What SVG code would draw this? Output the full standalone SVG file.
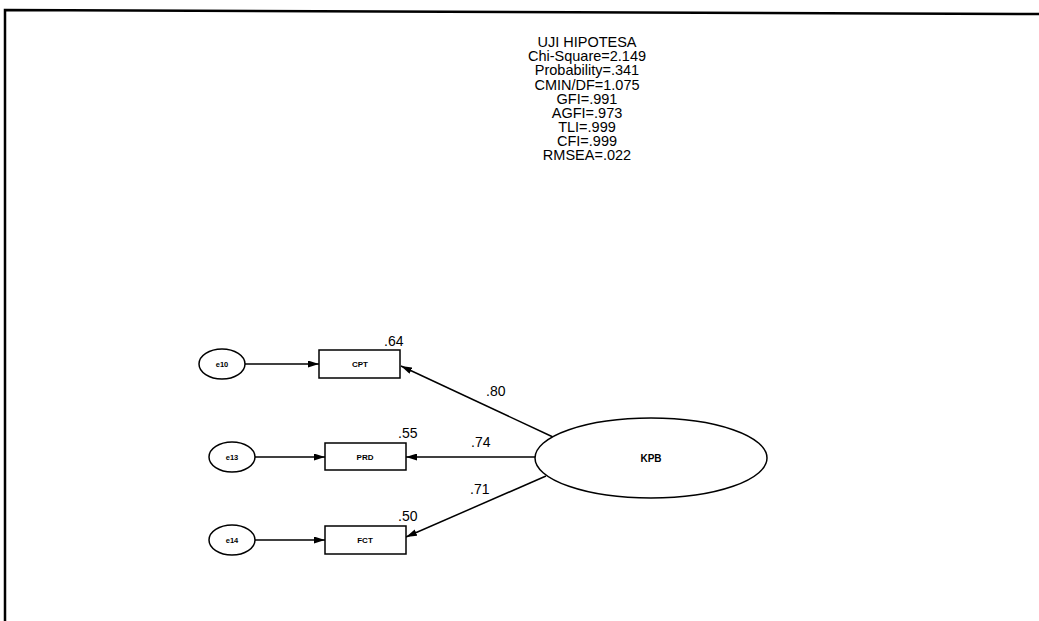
<svg xmlns="http://www.w3.org/2000/svg" width="1039" height="621" viewBox="0 0 1039 621">
<style>
.t{font-family:"Liberation Sans",Arial,sans-serif;fill:#000}
.title{font-size:14.5px;text-anchor:middle}
.lbl{font-size:14px}
.small{font-size:7.5px;font-weight:bold;text-anchor:middle}
.box{font-size:8px;font-weight:bold;text-anchor:middle}
.shape{fill:#fff;stroke:#000;stroke-width:1.5}
.conn{stroke:#000;stroke-width:1.5;fill:none}
</style>
<defs>
<marker id="ah" viewBox="0 0 11 7" refX="11" refY="3.5" markerWidth="11" markerHeight="7" markerUnits="userSpaceOnUse" orient="auto">
<path d="M0,0 L11,3.5 L0,7 Z" fill="#000"/>
</marker>
</defs>
<rect width="1039" height="621" fill="#fff"/>
<g id="frame">
<path d="M5,621 L5,10 L1039,14" fill="none" stroke="#000" stroke-width="2.5"/>
</g>
<g id="fit-stats" class="t title">
<text x="587" y="47">UJI HIPOTESA</text>
<text x="587" y="61">Chi-Square=2.149</text>
<text x="587" y="75">Probability=.341</text>
<text x="587" y="89.5">CMIN/DF=1.075</text>
<text x="587" y="104">GFI=.991</text>
<text x="587" y="118">AGFI=.973</text>
<text x="587" y="132">TLI=.999</text>
<text x="587" y="146">CFI=.999</text>
<text x="587" y="160">RMSEA=.022</text>
</g>
<g id="connectors">
<line class="conn" x1="245" y1="364" x2="319" y2="364" marker-end="url(#ah)"/>
<line class="conn" x1="255" y1="457" x2="325" y2="457" marker-end="url(#ah)"/>
<line class="conn" x1="255" y1="540" x2="325" y2="540" marker-end="url(#ah)"/>
<line class="conn" x1="553" y1="437" x2="401" y2="366" marker-end="url(#ah)"/>
<line class="conn" x1="535" y1="457" x2="406" y2="457" marker-end="url(#ah)"/>
<line class="conn" x1="546" y1="476" x2="406" y2="537" marker-end="url(#ah)"/>
<text class="t lbl" x="486" y="396">.80</text>
<text class="t lbl" x="471" y="447">.74</text>
<text class="t lbl" x="470" y="494">.71</text>
</g>
<g id="e10">
<ellipse class="shape" cx="222" cy="364" rx="23" ry="15"/>
<text class="t small" x="222" y="366.5">e10</text>
</g>
<g id="e13">
<ellipse class="shape" cx="232" cy="457" rx="23" ry="15"/>
<text class="t small" x="232" y="459.5">e13</text>
</g>
<g id="e14">
<ellipse class="shape" cx="232" cy="540" rx="23" ry="15"/>
<text class="t small" x="232" y="542.5">e14</text>
</g>
<g id="CPT">
<rect class="shape" x="319" y="350" width="81" height="28"/>
<text class="t box" x="360" y="367">CPT</text>
<text class="t lbl" x="384" y="346">.64</text>
</g>
<g id="PRD">
<rect class="shape" x="325" y="443" width="81" height="27"/>
<text class="t box" x="365" y="460">PRD</text>
<text class="t lbl" x="398" y="438">.55</text>
</g>
<g id="FCT">
<rect class="shape" x="325" y="526" width="81" height="28"/>
<text class="t box" x="365" y="543">FCT</text>
<text class="t lbl" x="398" y="521">.50</text>
</g>
<g id="KPB">
<ellipse class="shape" cx="651" cy="458" rx="116" ry="40"/>
<text class="t" x="651" y="462" font-size="10" font-weight="bold" text-anchor="middle">KPB</text>
</g>
</svg>
